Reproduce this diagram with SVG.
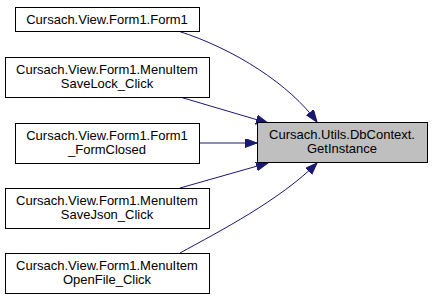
<svg xmlns="http://www.w3.org/2000/svg" width="432" height="299" viewBox="0 0 432 299">
  <style>
    .node rect { fill: #ffffff; stroke: #000000; stroke-width: 1; }
    .node.target rect { fill: #bfbfbf; }
    .node text { font-family: "Liberation Sans", Arial, sans-serif; font-size: 13px; fill: #000000; text-anchor: middle; }
    .edge { fill: none; stroke: #191970; stroke-width: 1; marker-end: url(#arrow); }
  </style>
  <defs>
    <marker id="arrow" markerUnits="userSpaceOnUse" markerWidth="13" markerHeight="10" refX="12" refY="4.5" orient="auto">
      <path d="M0,0 L12,4.5 L0,9 Z" fill="#191970" stroke="#191970" stroke-width="1"/>
    </marker>
  </defs>
  <rect width="432" height="299" fill="#ffffff"/>

  <g id="edges">
    <path class="edge" d="M178,31 C235,49 290,85 317,122"/>
    <path class="edge" d="M180,97 L268,123"/>
    <path class="edge" d="M199,143 L257,143"/>
    <path class="edge" d="M180,188 L268,163"/>
    <path class="edge" d="M180,253 C220,231 280,200 317,163"/>
  </g>

  <g id="node-getinstance" class="node target">
    <rect x="257.5" y="122.5" width="170" height="40"/>
    <text x="342" y="139">Cursach.Utils.DbContext.</text>
    <text x="342" y="153">GetInstance</text>
  </g>

  <g id="node-form1" class="node">
    <rect x="15.5" y="7.5" width="184" height="24"/>
    <text x="107" y="24">Cursach.View.Form1.Form1</text>
  </g>

  <g id="node-savelock" class="node">
    <rect x="5.5" y="57.5" width="204" height="40"/>
    <text x="107" y="74">Cursach.View.Form1.MenuItem</text>
    <text x="107" y="88">SaveLock_Click</text>
  </g>

  <g id="node-formclosed" class="node">
    <rect x="15.5" y="123.5" width="184" height="40"/>
    <text x="107" y="140">Cursach.View.Form1.Form1</text>
    <text x="107" y="154">_FormClosed</text>
  </g>

  <g id="node-savejson" class="node">
    <rect x="5.5" y="188.5" width="204" height="40"/>
    <text x="107" y="205">Cursach.View.Form1.MenuItem</text>
    <text x="107" y="219">SaveJson_Click</text>
  </g>

  <g id="node-openfile" class="node">
    <rect x="5.5" y="253.5" width="204" height="40"/>
    <text x="107" y="270">Cursach.View.Form1.MenuItem</text>
    <text x="107" y="284">OpenFile_Click</text>
  </g>
</svg>
